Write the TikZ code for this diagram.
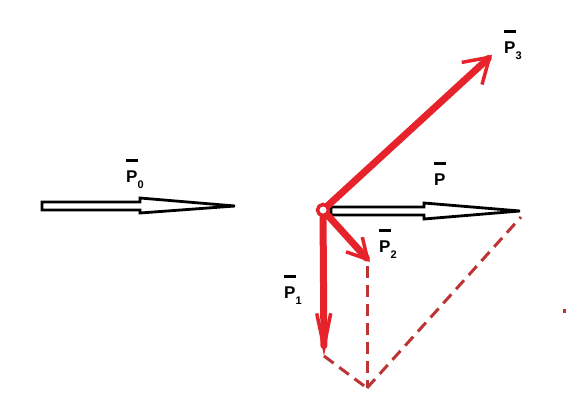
\documentclass[tikz,border=0pt]{standalone}
\usepackage{fontspec}
\setmainfont{Liberation Sans}
\usetikzlibrary{arrows.meta,positioning}

\definecolor{vecred}{RGB}{230,34,42}
\definecolor{dashred}{RGB}{188,52,52}
% label with a bar above the letter
\newcommand\barP[1]{\makebox[0pt][l]{\raisebox{1.15em}{\rule{0.7em}{3pt}}}P\raisebox{-0.38em}{\fontsize{11}{12}\selectfont #1}}

\tikzset{
  force/.style={vecred, line width=7pt, line cap=round},
  hollow/.style={black, line width=2.8pt, fill=white, line join=miter},
  helper/.style={dashred, line width=3pt, dash pattern=on 12pt off 7pt},
  lbl/.style={anchor=base west, inner sep=0pt, font=\fontsize{17}{20}\selectfont\bfseries}
}

\begin{document}
\begin{tikzpicture}[x=1pt, y=-1pt]
    \useasboundingbox (0, 0) rectangle (586, 413);
    \coordinate (O) at (323, 210);
    \coordinate (P1tip) at (324, 356);
    \coordinate (P2tip) at (370, 262);
    \coordinate (P3tip) at (492, 55);
    \coordinate (S) at (367, 388);
    \coordinate (Ptip) at (520, 211);

    % sum construction
    \draw [helper] (P1tip) -- (S);
    \draw [helper] (367, 266) -- (S);
    \draw [helper] (S) -- (521, 217);

    % hollow arrows
    \draw [hollow] (42, 202) -- (140, 202) -- (140, 198) -- (235, 206) -- (140, 213) -- (140, 210) -- (42, 210) -- cycle; % P0
    \draw [hollow] (331, 207) -- (424, 207) -- (424, 203) -- (Ptip) -- (424, 219) -- (424, 215) -- (331, 215) -- cycle; % P

    % component forces
    \draw [force, -{Straight Barb[length=24pt, width=30pt, line width=3.5pt]}] (O) -- (P3tip);
    \draw [force, -{Straight Barb[length=20pt, width=22pt, line width=3.5pt]}] (O) -- (P2tip);
    \draw [force, -{Straight Barb[length=34pt, width=14pt, line width=3.5pt]}] (O) -- (P1tip);
    \draw [vecred, line width=3.5pt, fill=white] (O) circle (5.5);

    % labels
    \node [lbl] (l0) at (126, 182) {\barP{0}};
    \node [lbl] (lp) at (434, 185) {\barP{}};
    \node [lbl] (l3) at (504, 53) {\barP{3}};
    \node [lbl] (l2) at (379, 252) {\barP{2}};
    \node [lbl] (l1) at (284, 298) {\barP{1}};

    \fill [dashred] (562.5, 309) rectangle (565.5, 313);
\end{tikzpicture}
\end{document}
